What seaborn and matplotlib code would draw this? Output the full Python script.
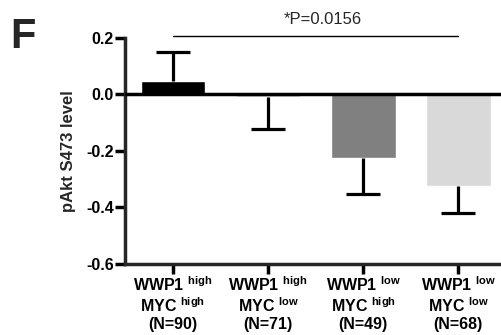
import matplotlib
matplotlib.use("Agg")
import matplotlib.pyplot as plt
import seaborn as sns
import pandas as pd

groups = ["WWP1 high / MYC high", "WWP1 high / MYC low", "WWP1 low / MYC high", "WWP1 low / MYC low"]
tick_labels = [
    "WWP1 $^{\\mathbf{high}}$\nMYC $^{\\mathbf{high}}$\n(N=90)",
    "WWP1 $^{\\mathbf{high}}$\nMYC $^{\\mathbf{low}}$\n(N=71)",
    "WWP1 $^{\\mathbf{low}}$\nMYC $^{\\mathbf{high}}$\n(N=49)",
    "WWP1 $^{\\mathbf{low}}$\nMYC $^{\\mathbf{low}}$\n(N=68)",
]
means = [0.047, -0.01, -0.226, -0.324]
err_ends = [0.150, -0.123, -0.353, -0.420]
colors = ["#000000", "#c8c8c8", "#808080", "#d9d9d9"]
p_text = "*P=0.0156"

sns.set_theme(style="ticks")
plt.rcParams["font.family"] = ["Liberation Sans", "DejaVu Sans"]
plt.rcParams["mathtext.fontset"] = "custom"
plt.rcParams["mathtext.rm"] = "Liberation Sans"
plt.rcParams["mathtext.bf"] = "Liberation Sans:bold"

df = pd.DataFrame({"group": groups, "value": means})

fig = plt.figure(figsize=(5.02, 3.35), dpi=100)
ax = fig.add_axes([0.249, 0.212, 0.751, 0.675])

sns.barplot(data=df, x="group", y="value", hue="group", palette=colors,
            legend=False, width=0.68, ax=ax, errorbar=None, saturation=1)

xs = list(range(len(means)))
for x, m, e in zip(xs, means, err_ends):
    ax.plot([x, x], [m, e], color="black", lw=2.3, zorder=3, solid_capstyle="butt")
    ax.plot([x - 0.18, x + 0.18], [e, e], color="black", lw=2.3, zorder=3, solid_capstyle="butt")

ax.axhline(0, color="black", lw=2.5, zorder=4)

ax.set_ylim(-0.6, 0.2)
ax.set_xlim(-0.505, 3.46)
ax.set_yticks([0.2, 0.0, -0.2, -0.4, -0.6])
ax.set_yticklabels(["0.2", "0.0", "-0.2", "-0.4", "-0.6"], fontweight="bold", fontsize=11.5)
ax.set_xticks(xs)
ax.set_xticklabels(tick_labels, fontweight="bold", fontsize=11.5, linespacing=1.15)
ax.set_xlabel("")
ax.set_ylabel("pAkt S473 level", fontweight="bold", fontsize=12, labelpad=7)

for side in ["top", "right"]:
    ax.spines[side].set_visible(False)
for side in ["left", "bottom"]:
    ax.spines[side].set_linewidth(2.5)
ax.tick_params(axis="both", width=2.5, length=7, colors="black", pad=1)

ax.plot([0, 3], [0.207, 0.207], color="black", lw=1.0, clip_on=False)
ax.text(1.58, 0.24, p_text, ha="center", va="bottom", fontsize=12)

fig.text(0.02, 0.95, "F", fontsize=30, fontweight="bold", ha="left", va="top")

fig.savefig("out.png", dpi=100)
